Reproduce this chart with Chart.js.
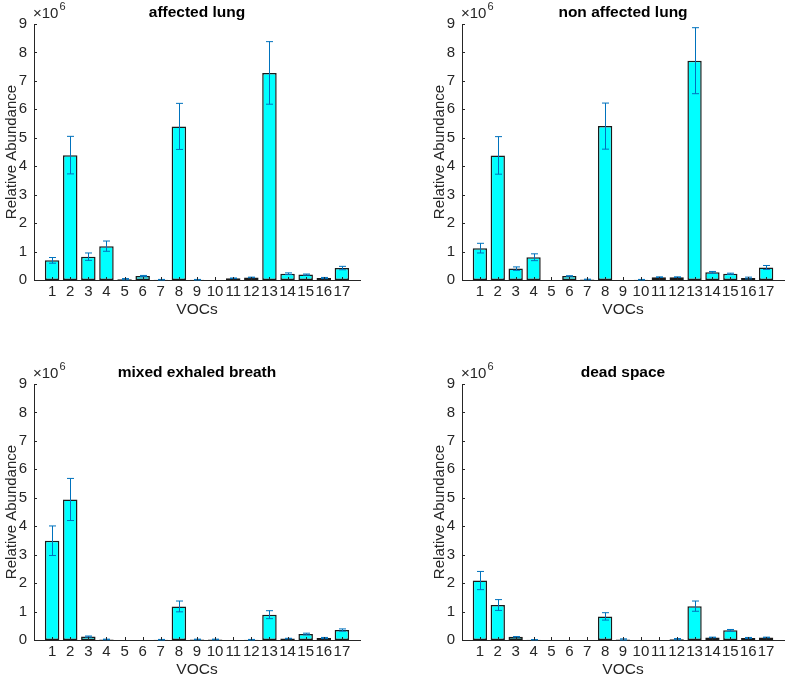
<!DOCTYPE html>
<html>
<head>
<meta charset="utf-8">
<script src="https://cdn.jsdelivr.net/npm/chart.js@4"></script>
<style>
  body { margin: 0; background: #fff; }
  #wrap { position: relative; width: 787px; height: 680px; }
  canvas { position: absolute; }
</style>
</head>
<body>
<div id="wrap">
  <canvas id="c1" width="370" height="320" style="left:0;top:0"></canvas>
  <canvas id="c2" width="359" height="320" style="left:428px;top:0"></canvas>
  <canvas id="c3" width="370" height="320" style="left:0;top:360px"></canvas>
  <canvas id="c4" width="359" height="320" style="left:428px;top:360px"></canvas>
</div>
<script>
// VOC index 1..17, values in units of 10^6
const vocs = [1, 2, 3, 4, 5, 6, 7, 8, 9, 10, 11, 12, 13, 14, 15, 16, 17];
const yTicks = [0, 1, 2, 3, 4, 5, 6, 7, 8, 9];

const affected    = [0.69, 4.39, 0.82, 1.19, 0.03, 0.14, 0.01, 5.40, 0.01, 0, 0.06, 0.09, 7.28, 0.22, 0.19, 0.07, 0.42];
const affectedErr = [0.10, 0.66, 0.13, 0.18, 0.02, 0.02, 0.01, 0.81, 0.01, 0, 0.01, 0.01, 1.10, 0.03, 0.02, 0.02, 0.06];

const nonAffected    = [1.12, 4.38, 0.40, 0.80, 0, 0.14, 0.02, 5.41, 0, 0.01, 0.10, 0.10, 7.71, 0.27, 0.22, 0.07, 0.44];
const nonAffectedErr = [0.17, 0.66, 0.06, 0.12, 0, 0.01, 0.01, 0.81, 0, 0.01, 0.01, 0.01, 1.16, 0.03, 0.02, 0.03, 0.07];

const mixed    = [3.49, 4.94, 0.12, 0.02, 0, 0, 0.01, 1.18, 0.02, 0.02, 0, 0.01, 0.89, 0.05, 0.21, 0.07, 0.35];
const mixedErr = [0.52, 0.74, 0.02, 0.01, 0, 0, 0.01, 0.19, 0.01, 0.01, 0, 0.01, 0.14, 0.01, 0.03, 0.02, 0.04];

const deadSpace    = [2.09, 1.23, 0.11, 0.01, 0, 0, 0, 0.83, 0.02, 0, 0, 0.03, 1.19, 0.09, 0.34, 0.07, 0.09];
const deadSpaceErr = [0.32, 0.19, 0.01, 0, 0, 0, 0, 0.13, 0.02, 0, 0, 0.02, 0.18, 0.01, 0.03, 0.02, 0.01];

const FONT = '"Liberation Sans", Arial, Helvetica, sans-serif';
const AXIS = '#262626';

// error bars, inner tick marks and the x10^6 exponent
const extras = {
    id: 'extras',
    afterDatasetsDraw(chart, args, opts) {
        const ctx = chart.ctx;
        const xs = chart.scales.x, ys = chart.scales.y;
        const area = chart.chartArea;
        ctx.save();
        ctx.strokeStyle = '#0072BD';
        ctx.lineWidth = 1;
        opts.values.forEach((v, i) => {
            const e = opts.errors[i];
            if (v === 0 && e === 0) return;
            const x = Math.round(xs.getPixelForValue(vocs[i])) + 0.5;
            const yt = ys.getPixelForValue(v + e);
            const yb = ys.getPixelForValue(Math.max(v - e, 0));
            ctx.beginPath();
            ctx.moveTo(x, yt); ctx.lineTo(x, yb);
            ctx.moveTo(x - 3.5, yt); ctx.lineTo(x + 3.5, yt);
            ctx.moveTo(x - 3.5, yb); ctx.lineTo(x + 3.5, yb);
            ctx.stroke();
        });
        // inward ticks
        ctx.strokeStyle = AXIS;
        ctx.beginPath();
        yTicks.forEach(t => {
            const y = Math.round(ys.getPixelForValue(t)) + 0.5;
            ctx.moveTo(area.left, y); ctx.lineTo(area.left + 3, y);
        });
        vocs.forEach(t => {
            const x = Math.round(xs.getPixelForValue(t)) + 0.5;
            ctx.moveTo(x, area.bottom); ctx.lineTo(x, area.bottom - 3);
        });
        ctx.stroke();
        // exponent
        ctx.fillStyle = AXIS;
        ctx.textBaseline = 'middle';
        ctx.textAlign = 'left';
        ctx.font = '15px ' + FONT;
        ctx.fillText('\u00d710', area.left - 1, area.top - 10);
        const w = ctx.measureText('\u00d710').width;
        ctx.font = '11px ' + FONT;
        ctx.fillText('6', area.left - 1 + w + 1, area.top - 17);
        ctx.restore();
    }
};

function makePanel(id, title, values, errors, rightPad) {
    new Chart(document.getElementById(id), {
        type: 'bar',
        data: {
            datasets: [{
                data: vocs.map((v, i) => ({ x: v, y: values[i] })),
                backgroundColor: '#00FFFF',
                borderColor: '#1a1a1a',
                borderWidth: 1.5,
                borderSkipped: false,
                barPercentage: 0.8,
                categoryPercentage: 1
            }]
        },
        options: {
            responsive: false,
            animation: false,
            devicePixelRatio: 1,
            layout: { padding: { left: 0, right: rightPad, top: 0, bottom: 0 } },
            plugins: {
                legend: { display: false },
                tooltip: { enabled: false },
                title: {
                    display: true,
                    text: title,
                    fullSize: false,
                    color: '#000',
                    font: { family: FONT, size: 15.5, weight: 'bold' },
                    padding: { top: 3, bottom: 2.4 }
                },
                extras: { values: values, errors: errors }
            },
            scales: {
                x: {
                    type: 'linear',
                    min: 0,
                    max: 18,
                    offset: false,
                    grid: { display: false, drawTicks: false },
                    border: { display: true, color: AXIS, width: 1 },
                    ticks: {
                        stepSize: 1,
                        autoSkip: false,
                        maxRotation: 0,
                        padding: 3,
                        color: AXIS,
                        font: { family: FONT, size: 15 },
                        callback: v => (v >= 1 && v <= 17) ? String(v) : ''
                    },
                    title: {
                        display: true,
                        text: 'VOCs',
                        color: AXIS,
                        font: { family: FONT, size: 15.5 },
                        padding: { top: 0, bottom: 1 }
                    },
                    afterFit: s => { s.height = 40; }
                },
                y: {
                    min: 0,
                    max: 9,
                    grid: { display: false, drawTicks: false },
                    border: { display: true, color: AXIS, width: 1 },
                    ticks: {
                        stepSize: 1,
                        padding: 7,
                        color: AXIS,
                        font: { family: FONT, size: 15 }
                    },
                    title: {
                        display: true,
                        text: 'Relative Abundance',
                        color: AXIS,
                        font: { family: FONT, size: 15 },
                        padding: { top: 3, bottom: 0 }
                    },
                    afterFit: s => { s.width = 34; }
                }
            }
        },
        plugins: [extras]
    });
}

makePanel('c1', 'affected lung', affected, affectedErr, 10);
makePanel('c2', 'non affected lung', nonAffected, nonAffectedErr, 0);
makePanel('c3', 'mixed exhaled breath', mixed, mixedErr, 10);
makePanel('c4', 'dead space', deadSpace, deadSpaceErr, 0);
</script>
</body>
</html>
